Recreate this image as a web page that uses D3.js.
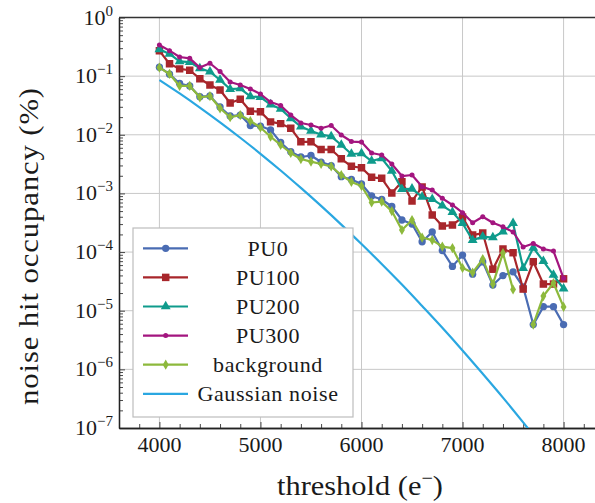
<!DOCTYPE html>
<html><head><meta charset="utf-8">
<script src="https://cdn.jsdelivr.net/npm/d3@7"></script>
<style>
body{margin:0;background:#fff}
svg{display:block}
svg text{font-family:"Liberation Serif","Times New Roman",Tinos,Times,"DejaVu Serif",serif;fill:#1a1a1a}
</style>
</head><body>
<svg id="c" width="595" height="503"></svg>
<script>
const thresholds = [4000,4100,4200,4300,4400,4500,4600,4700,4800,4900,5000,5100,5200,5300,5400,5500,5600,5700,5800,5900,6000,6100,6200,6300,6400,6500,6600,6700,6800,6900,7000,7100,7200,7300,7400,7500,7600,7700,7800,7900,8000];
const pu0 = [0.142,0.108,0.0749,0.0679,0.0446,0.0458,0.0298,0.0209,0.0217,0.0144,0.0141,0.0121,0.00738,0.00514,0.00418,0.00443,0.00343,0.00299,0.00193,0.00173,0.00145,0.000904,0.000787,0.000598,0.000352,0.000301,0.00015,0.00022,0.000106,5.7e-5,8.9e-5,4.2e-5,6.8e-5,2.74e-5,3.98e-5,4.6e-5,2.54e-5,5.8e-6,1.17e-5,1.17e-5,5.8e-6];
const pu100 = [0.270,0.163,0.133,0.126,0.0904,0.0706,0.058,0.0348,0.0404,0.0252,0.0248,0.0166,0.0155,0.0129,0.0076,0.0076,0.0056,0.0056,0.0039,0.0029,0.00274,0.00188,0.00181,0.00102,0.00158,0.00074,0.00129,0.00043,0.000278,0.000289,0.000396,0.000195,0.000211,5.1e-5,0.000113,9.75e-5,2.34e-5,6.85e-5,2.85e-5,2.85e-5,3.5e-5];
const pu200 = [0.287,0.239,0.178,0.174,0.136,0.119,0.086,0.060,0.0615,0.045,0.044,0.0328,0.0275,0.0191,0.0138,0.0116,0.0101,0.0094,0.0067,0.0047,0.0048,0.00357,0.00397,0.00241,0.00118,0.0012,0.00087,0.0008,0.00062,0.00048,0.00031,0.00016,0.000183,0.000177,0.000222,0.00031,5.3e-5,0.000118,7.0e-5,4.06e-5,2.37e-5];
const pu300 = [0.34,0.272,0.212,0.201,0.140,0.166,0.120,0.0794,0.0706,0.0604,0.0496,0.0362,0.0316,0.0217,0.0159,0.0147,0.0129,0.0144,0.0099,0.00767,0.0075,0.00489,0.00452,0.00318,0.00198,0.00206,0.0013,0.00114,0.000826,0.000635,0.000469,0.000317,0.000401,0.000317,0.00027,0.00022,0.000122,0.00014,0.000113,0.000104,3.57e-5];
const background = [0.140,0.109,0.068,0.068,0.0436,0.0458,0.0283,0.0199,0.0217,0.0172,0.0133,0.00927,0.0067,0.00489,0.00386,0.00348,0.00318,0.00288,0.00206,0.00157,0.00134,0.0007,0.000723,0.0005,0.000238,0.000352,0.000177,0.00016,0.000124,0.000117,5.35e-5,4.47e-5,7.6e-5,2.85e-5,9.6e-5,2.3e-5,null,5.8e-6,1.78e-5,2.97e-5,1.16e-5];
const gaussThr = [4000,4200,4400,4600,4800,5000,5200,5400,5600,5800,6000,6200,6400,6600,6800,7000,7200,7400,7600,7800];
const gaussOcc = [0.0859,0.0507,0.0291,0.0163,0.0089,0.00474,0.00246,0.00124,0.000612,0.000294,0.000137,6.27e-5,2.79e-5,1.2e-5,5.1e-6,2.1e-6,8.4e-7,3.3e-7,1.25e-7,4.6e-8];
const xMajor = [4000,5000,6000,7000,8000];
const xMinor = [3800,4200,4400,4600,4800,5200,5400,5600,5800,6200,6400,6600,6800,7200,7400,7600,7800,8200];
const yExponents = [0,-1,-2,-3,-4,-5,-6,-7];
const seriesNames = ["PU0","PU100","PU200","PU300","background","Gaussian noise"];

const colors = ["#4a6cb3","#a8262b","#0f9b8c","#a3157f","#8db93c","#2aa7e1"];
const symbols = [d3.symbolCircle,d3.symbolSquare,d3.symbolTriangle,d3.symbolCircle,d3.symbolDiamond,null];
const symSizes = [42,56,42,20,30,0];

const svg = d3.select("#c");
const L=119, R=604, T=17.5, B=428;
const x = d3.scaleLinear().domain([3600,8400]).range([L,R]);
const y = d3.scaleLog().domain([1e-7,1]).range([B,T]);

svg.append("defs").append("clipPath").attr("id","clip")
  .append("rect").attr("x",L).attr("y",T).attr("width",R-L).attr("height",B-T);

// grid
const grid = svg.append("g").attr("stroke","#c8c8c8").attr("stroke-width",1);
grid.selectAll(".gx").data(xMajor).join("line")
  .attr("x1",d=>x(d)).attr("x2",d=>x(d)).attr("y1",T).attr("y2",B);
grid.selectAll(".gy").data(yExponents.slice(1,-1)).join("line")
  .attr("y1",d=>y(Math.pow(10,d))).attr("y2",d=>y(Math.pow(10,d))).attr("x1",L).attr("x2",R);

// axes ticks
const yMinor = [];
for (let e=-7;e<0;e++) for (let k=2;k<=9;k++) yMinor.push(k*Math.pow(10,e));
const axL = svg.append("g").attr("transform",`translate(${L},0)`)
  .call(d3.axisLeft(y).tickValues(yMinor).tickSize(-4).tickSizeOuter(0).tickFormat(""));
const axL2 = svg.append("g").attr("transform",`translate(${L},0)`)
  .call(d3.axisLeft(y).tickValues(yExponents.map(e=>Math.pow(10,e))).tickSize(-6).tickSizeOuter(0).tickFormat(""));
const axB = svg.append("g").attr("transform",`translate(0,${B})`)
  .call(d3.axisBottom(x).tickValues(xMinor).tickSize(-4).tickSizeOuter(0).tickFormat(""));
const axB2 = svg.append("g").attr("transform",`translate(0,${B})`)
  .call(d3.axisBottom(x).tickValues(xMajor).tickSize(-6).tickSizeOuter(0).tickFormat(""));
[axL,axL2,axB,axB2].forEach(a=>{a.selectAll("line").attr("stroke","#333").attr("stroke-width",0.9);a.select(".domain").attr("stroke","#222").attr("stroke-width",1.3);});
svg.append("line").attr("x1",L).attr("x2",R).attr("y1",T).attr("y2",T).attr("stroke","#333").attr("stroke-width",1.3);

// tick labels
svg.append("g").selectAll("text").data(xMajor).join("text")
  .attr("x",d=>x(d)).attr("y",452).attr("text-anchor","middle").attr("font-size",22).text(d=>d);
const yl = svg.append("g").selectAll("text").data(yExponents).join("text")
  .attr("x",113).attr("y",d=>y(Math.pow(10,d))+7).attr("text-anchor","end").attr("font-size",22);
yl.append("tspan").text("10");
yl.append("tspan").attr("dy",-9).attr("font-size",15).text(d=>d===0?"0":"\u2212"+(-d));

// axis labels
const xl = svg.append("text").attr("x",360).attr("y",495).attr("text-anchor","middle")
  .attr("font-size",27).attr("textLength",166).attr("lengthAdjust","spacingAndGlyphs");
xl.append("tspan").text("threshold (e");
xl.append("tspan").attr("dy",-11).attr("font-size",18).text("\u2212");
xl.append("tspan").attr("dy",11).text(")");
svg.append("text").attr("transform","translate(38,246) rotate(-90)").attr("text-anchor","middle")
  .attr("font-size",27).attr("letter-spacing",0.8).attr("textLength",318).attr("lengthAdjust","spacingAndGlyphs")
  .text("noise hit occupancy (%)");

// data
const plot = svg.append("g").attr("clip-path","url(#clip)");
const allSeries = [pu0,pu100,pu200,pu300,background];
const line = d3.line().defined(d=>d[1]!=null).x(d=>x(d[0])).y(d=>y(d[1]));
allSeries.forEach((s,i)=>{
  const pts = thresholds.map((t,j)=>[t,s[j]]);
  plot.append("path").datum(pts).attr("d",line).attr("fill","none")
    .attr("stroke",colors[i]).attr("stroke-width",2.2).attr("stroke-linejoin","round");
  plot.append("g").selectAll("path").data(pts.filter(d=>d[1]!=null)).join("path")
    .attr("transform",d=>`translate(${x(d[0])},${y(d[1])})`)
    .attr("d",d3.symbol(symbols[i],symSizes[i])).attr("fill",colors[i]);
});
const gline = d3.line().x(d=>x(d[0])).y(d=>y(d[1])).curve(d3.curveMonotoneX);
plot.append("path").datum(gaussThr.map((t,j)=>[t,gaussOcc[j]])).attr("d",gline)
  .attr("fill","none").attr("stroke",colors[5]).attr("stroke-width",2.2);

// legend
const lg = svg.append("g");
lg.append("rect").attr("x",133).attr("y",228).attr("width",220).attr("height",189)
  .attr("fill","#fff").attr("stroke","#bdbdbd").attr("stroke-width",1.2);
seriesNames.forEach((n,i)=>{
  const yy = 248.3 + i*29.1;
  lg.append("line").attr("x1",143).attr("x2",188).attr("y1",yy).attr("y2",yy)
    .attr("stroke",colors[i]).attr("stroke-width",2.2);
  if (symbols[i]) lg.append("path").attr("transform",`translate(165.7,${yy})`)
    .attr("d",d3.symbol(symbols[i],symSizes[i])).attr("fill",colors[i]);
  lg.append("text").attr("x",268).attr("y",yy+7.5).attr("text-anchor","middle")
    .attr("font-size",22).attr("letter-spacing",0.6).text(n);
});
</script>
</body></html>
